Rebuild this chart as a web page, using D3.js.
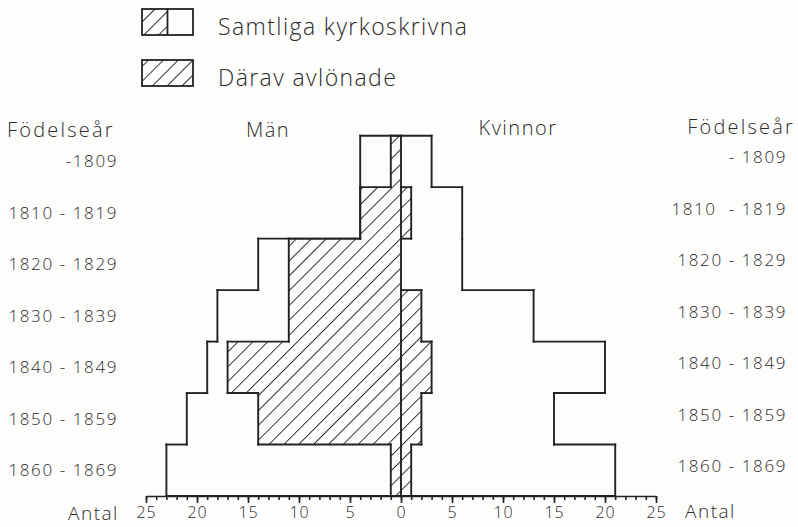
<!DOCTYPE html>
<html>
<head>
<meta charset="utf-8">
<script src="https://cdn.jsdelivr.net/npm/d3@7"></script>
<style>
  html, body { margin: 0; padding: 0; background: #fdfdfc; }
  svg { display: block; }
  text { font-family: "Open Sans", "DejaVu Sans", sans-serif; fill: #2b2b2b; font-weight: 300; }
</style>
</head>
<body>
<svg id="chart" width="798" height="527"></svg>
<script>
// Birth cohorts, top to bottom
const cohorts = ["-1809", "1810 - 1819", "1820 - 1829", "1830 - 1839", "1840 - 1849", "1850 - 1859", "1860 - 1869"];
const cohortsRight = ["- 1809", "1810  - 1819", "1820 - 1829", "1830 - 1839", "1840 - 1849", "1850 - 1859", "1860 - 1869"];

// All church-registered persons
const menAll = [4, 4, 14, 18, 19, 21, 23];
const womenAll = [3, 6, 6, 13, 20, 15, 21];

// Of whom salaried
const menPaid = [1, 4, 11, 11, 17, 14, 1];
const womenPaid = [0, 1, 0, 2, 3, 2, 1];

const majorTicks = [-25, -20, -15, -10, -5, 0, 5, 10, 15, 20, 25];
const minorTicks = d3.range(-25, 26, 1);

const ink = "#222";
const svg = d3.select("#chart");

const x = d3.scaleLinear().domain([-25, 25]).range([146, 656]);
const y = d3.scaleBand().domain(d3.range(cohorts.length)).range([135.7, 496]).paddingInner(0).paddingOuter(0);

// Diagonal hatch
const defs = svg.append("defs");
const pat = defs.append("pattern")
  .attr("id", "hatch")
  .attr("patternUnits", "userSpaceOnUse")
  .attr("width", 10.5).attr("height", 10.5)
  .attr("patternTransform", "rotate(45)");
pat.append("line")
  .attr("x1", 0).attr("y1", 0).attr("x2", 0).attr("y2", 10.5)
  .attr("stroke", ink).attr("stroke-width", 1.8);

// Outline of a step silhouette on one side (sign -1 = left, +1 = right)
function stepEdges(values, sign) {
  const segs = [];
  const n = values.length;
  for (let i = 0; i <= n; i++) {
    const prev = i > 0 ? values[i - 1] : 0;
    const cur = i < n ? values[i] : 0;
    const yb = i < n ? y(i) : y(n - 1) + y.bandwidth();
    if (prev !== cur) segs.push([[x(sign * prev), yb], [x(sign * cur), yb]]);
    if (i < n && cur > 0) segs.push([[x(sign * cur), y(i)], [x(sign * cur), y(i) + y.bandwidth()]]);
  }
  return segs;
}

const lineGen = d3.line();

function drawSide(values, sign, hatched) {
  const g = svg.append("g");
  if (hatched) {
    g.selectAll("rect")
      .data(values)
      .join("rect")
      .attr("x", (d) => Math.min(x(0), x(sign * d)))
      .attr("y", (d, i) => y(i))
      .attr("width", (d) => Math.abs(x(sign * d) - x(0)))
      .attr("height", y.bandwidth())
      .attr("fill", "url(#hatch)");
  }
  g.selectAll("path")
    .data(stepEdges(values, sign))
    .join("path")
    .attr("d", (d) => lineGen(d))
    .attr("fill", "none")
    .attr("stroke", ink)
    .attr("stroke-width", 1.9)
    .attr("stroke-linecap", "square");
}

drawSide(menPaid, -1, true);
drawSide(womenPaid, 1, true);
drawSide(menAll, -1, false);
drawSide(womenAll, 1, false);

// Centre line
svg.append("line")
  .attr("x1", x(0)).attr("x2", x(0))
  .attr("y1", y(0)).attr("y2", y(cohorts.length - 1) + y.bandwidth())
  .attr("stroke", ink).attr("stroke-width", 1.9);

// Bottom scale: minor ticks every unit, labelled every five
const axisY = y(cohorts.length - 1) + y.bandwidth();
const minorAxis = svg.append("g")
  .attr("transform", `translate(0,${axisY})`)
  .call(d3.axisBottom(x).tickValues(minorTicks).tickSize(4).tickSizeOuter(0).tickFormat(""));
const majorAxis = svg.append("g")
  .attr("transform", `translate(0,${axisY})`)
  .call(d3.axisBottom(x).tickValues(majorTicks).tickSize(7).tickSizeOuter(0).tickPadding(4)
    .tickFormat((d) => Math.abs(d)));
[minorAxis, majorAxis].forEach((a) => {
  a.selectAll("path, line").attr("stroke", ink).attr("stroke-width", 1.6);
});
majorAxis.select(".domain").remove();
majorAxis.selectAll("text")
  .attr("font-size", 16)
  .attr("letter-spacing", 1)
  .style("font-family", "\"Open Sans\", sans-serif")
  .attr("fill", "#2b2b2b");

// Row labels
svg.append("g").selectAll("text")
  .data(cohorts)
  .join("text")
  .attr("x", 118)
  .attr("y", (d, i) => y(i) + y.bandwidth() / 2 + 6)
  .attr("text-anchor", "end")
  .attr("font-size", 17)
  .attr("letter-spacing", 1.6)
  .text((d) => d);

svg.append("g").selectAll("text")
  .data(cohortsRight)
  .join("text")
  .attr("x", 787)
  .attr("y", (d, i) => y(i) + y.bandwidth() / 2 + 2)
  .attr("text-anchor", "end")
  .attr("font-size", 17)
  .attr("letter-spacing", 1.6)
  .style("white-space", "pre")
  .text((d) => d);

// Headings
const head = (t, xp, yp, size, anchor, ls) => svg.append("text")
  .attr("x", xp).attr("y", yp)
  .attr("font-size", size)
  .attr("text-anchor", anchor)
  .attr("letter-spacing", ls)
  .text(t);

head("Födelseår", 7, 137, 20, "start", 2.2);
head("Födelseår", 795, 134, 20, "end", 2.2);
head("Män", 268, 137, 20, "middle", 1.5);
head("Kvinnor", 518, 135, 20, "middle", 1.5);
head("Antal", 68, 520, 19, "start", 1.5);
head("Antal", 685, 518, 19, "start", 1.5);

// Legend
const legend = svg.append("g");
const boxW = 51, boxH = 26;
const rows = [
  { label: "Samtliga kyrkoskrivna", y: 9, split: true },
  { label: "Därav avlönade", y: 60, split: false }
];
rows.forEach((r) => {
  legend.append("rect")
    .attr("x", 142).attr("y", r.y)
    .attr("width", r.split ? boxW / 2 : boxW).attr("height", boxH)
    .attr("fill", "url(#hatch)");
  legend.append("rect")
    .attr("x", 142).attr("y", r.y)
    .attr("width", boxW).attr("height", boxH)
    .attr("fill", "none").attr("stroke", ink).attr("stroke-width", 1.8);
  if (r.split) {
    legend.append("line")
      .attr("x1", 142 + boxW / 2).attr("x2", 142 + boxW / 2)
      .attr("y1", r.y).attr("y2", r.y + boxH)
      .attr("stroke", ink).attr("stroke-width", 1.8);
  }
  legend.append("text")
    .attr("x", 218).attr("y", r.y + boxH)
    .attr("font-size", 23)
    .attr("letter-spacing", 1.4)
    .text(r.label);
});
</script>
</body>
</html>
